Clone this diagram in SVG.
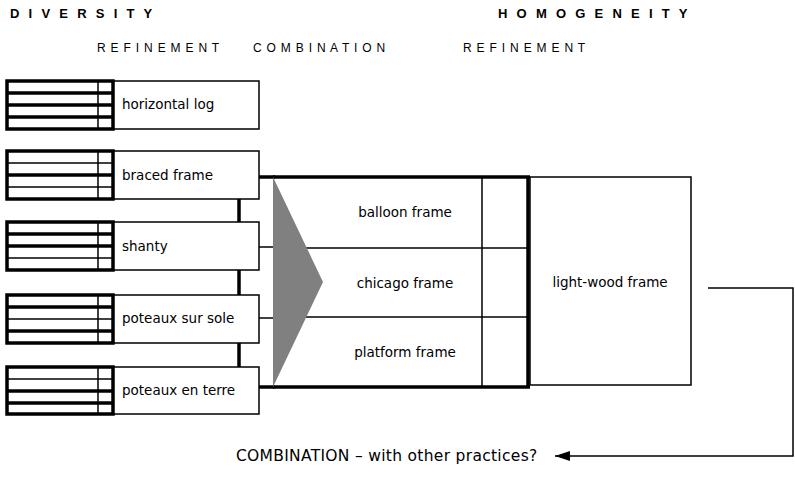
<svg xmlns="http://www.w3.org/2000/svg" width="795" height="488" viewBox="0 0 795 488">
<style>
.hdr{font-family:"Liberation Sans",Arial,sans-serif;font-size:13px;font-weight:bold;fill:#000;letter-spacing:2.8px}
.sub{font-family:"Liberation Sans",Arial,sans-serif;font-size:12px;fill:#000;letter-spacing:0.8px}
.lbl{font-family:"DejaVu Sans",Verdana,sans-serif;font-size:13.5px;fill:#000}
.box{fill:#fff;stroke:#000;stroke-width:1.5}
.icon{fill:#fff;stroke:#000;stroke-width:3.5}
.thin{stroke:#000;stroke-width:1.5;fill:none}
.thick{stroke:#000;stroke-width:3.5;fill:none}
</style>
<defs>
<marker id="arr" markerUnits="userSpaceOnUse" markerWidth="16" markerHeight="12" refX="15" refY="5" orient="auto">
<path d="M0,0 L15,5 L0,10 z" fill="#000"/>
</marker>
</defs>
<rect width="795" height="488" fill="#fff"/>
<g id="headers">
<text class="hdr" x="10" y="18">D I V E R S I T Y</text>
<text class="hdr" x="498" y="18">H O M O G E N E I T Y</text>
<text class="sub" x="97" y="52">R E F I N E M E N T</text>
<text class="sub" x="253" y="52">C O M B I N A T I O N</text>
<text class="sub" x="463" y="52">R E F I N E M E N T</text>
</g>
<g id="connectors">
<line class="thick" x1="239" y1="199" x2="239" y2="368"/>
<line class="thick" x1="259" y1="177" x2="275" y2="177"/>
<line class="thin" x1="259" y1="247" x2="275" y2="247"/>
<line class="thin" x1="259" y1="318" x2="275" y2="318"/>
<line class="thick" x1="259" y1="387" x2="275" y2="387"/>
<polyline class="thin" points="708,288 793,288 793,456 555,456" marker-end="url(#arr)"/>
</g>
<g id="node-horizontal-log" transform="translate(0,81)">
<rect class="box" x="113" y="0" width="146" height="48"/>
<rect class="icon" x="7" y="0" width="106" height="48"/>
<line class="thin" x1="98" y1="0" x2="98" y2="48"/>
<line class="thick" x1="7" y1="12" x2="113" y2="12"/>
<line class="thick" x1="7" y1="24" x2="113" y2="24"/>
<line class="thick" x1="7" y1="36" x2="113" y2="36"/>
<text class="lbl" x="122" y="28">horizontal log</text>
</g>
<g id="node-braced-frame" transform="translate(0,151)">
<rect class="box" x="113" y="0" width="146" height="48"/>
<rect class="icon" x="7" y="0" width="106" height="48"/>
<line class="thin" x1="98" y1="0" x2="98" y2="48"/>
<line class="thin" x1="7" y1="12" x2="113" y2="12"/>
<line class="thick" x1="7" y1="24" x2="113" y2="24"/>
<line class="thin" x1="7" y1="36" x2="113" y2="36"/>
<text class="lbl" x="122" y="29">braced frame</text>
</g>
<g id="node-shanty" transform="translate(0,222)">
<rect class="box" x="113" y="0" width="146" height="48"/>
<rect class="icon" x="7" y="0" width="106" height="48"/>
<line class="thin" x1="98" y1="0" x2="98" y2="48"/>
<line class="thick" x1="7" y1="12" x2="113" y2="12"/>
<line class="thick" x1="7" y1="24" x2="113" y2="24"/>
<line class="thin" x1="7" y1="36" x2="113" y2="36"/>
<text class="lbl" x="122" y="29">shanty</text>
</g>
<g id="node-poteaux-sur-sole" transform="translate(0,295)">
<rect class="box" x="113" y="0" width="146" height="48"/>
<rect class="icon" x="7" y="0" width="106" height="48"/>
<line class="thin" x1="98" y1="0" x2="98" y2="48"/>
<line class="thick" x1="7" y1="12" x2="113" y2="12"/>
<line class="thin" x1="7" y1="24" x2="113" y2="24"/>
<line class="thick" x1="7" y1="36" x2="113" y2="36"/>
<text class="lbl" x="122" y="28">poteaux sur sole</text>
</g>
<g id="node-poteaux-en-terre" transform="translate(0,367)">
<rect class="box" x="113" y="0" width="146" height="47"/>
<rect class="icon" x="7" y="0" width="106" height="47"/>
<line class="thin" x1="98" y1="0" x2="98" y2="47"/>
<line class="thin" x1="7" y1="12" x2="113" y2="12"/>
<line class="thick" x1="7" y1="24" x2="113" y2="24"/>
<line class="thick" x1="7" y1="36" x2="113" y2="36"/>
<text class="lbl" x="122" y="28">poteaux en terre</text>
</g>
<g id="node-combination">
<line class="thin" x1="273" y1="248" x2="528" y2="248"/>
<line class="thin" x1="273" y1="317" x2="528" y2="317"/>
<line class="thin" x1="482" y1="177" x2="482" y2="387"/>
<line class="thick" x1="273" y1="177" x2="530" y2="177"/>
<line class="thick" x1="273" y1="387" x2="530" y2="387"/>
<line class="thick" x1="528" y1="177" x2="528" y2="387"/>
<polygon points="273,177 323,282 273,387" fill="#808080"/>
<text class="lbl" x="405" y="217" text-anchor="middle">balloon frame</text>
<text class="lbl" x="405" y="288" text-anchor="middle">chicago frame</text>
<text class="lbl" x="405" y="357" text-anchor="middle">platform frame</text>
</g>
<g id="node-light-wood-frame">
<rect class="box" x="530" y="177" width="161" height="208"/>
<text class="lbl" x="610" y="287" text-anchor="middle">light-wood frame</text>
</g>
<g id="label-combination">
<text class="lbl" x="236" y="461" style="font-size:15.5px;letter-spacing:0.3px">COMBINATION – with other practices?</text>
</g>
</svg>
